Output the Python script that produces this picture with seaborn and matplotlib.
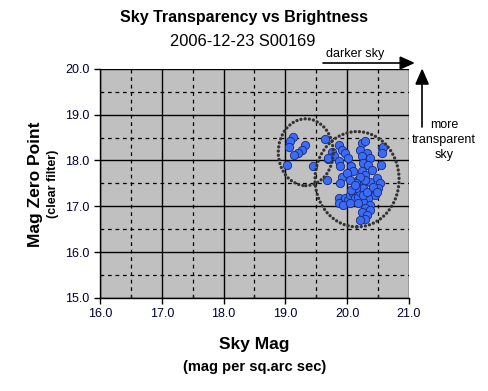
import matplotlib
matplotlib.use("Agg")
import matplotlib.pyplot as plt
from matplotlib.patches import Ellipse
from matplotlib.ticker import MultipleLocator, FormatStrFormatter
import seaborn as sns
import pandas as pd

# sky brightness (mag / sq arcsec) and zero point
sky_mag = [
    19.12, 19.07, 19.06, 19.31, 19.27, 19.21, 19.14, 19.02, 19.44, 19.64, 19.68,
    19.86, 19.75, 19.91, 19.96, 19.69, 19.78, 19.86, 20.02, 19.88, 20.07, 20.10,
    19.91, 19.88, 20.24, 20.29, 20.21, 20.32, 20.24, 20.37, 20.26, 20.34, 20.40,
    20.24, 20.29, 20.18, 20.24, 20.37, 20.48, 20.53, 20.50, 20.40, 20.45, 20.34,
    20.26, 20.37, 20.29, 20.37, 20.24, 20.32, 20.29, 20.20, 20.56, 20.58, 20.56,
    20.55, 19.86, 19.91, 19.96, 20.02, 20.05, 20.10, 20.13, 20.18, 20.21, 20.26,
    20.15, 20.07, 19.86, 19.94, 20.05, 20.18, 20.26, 20.32, 20.42, 20.48, 20.29,
    20.21, 20.15, 19.69, 19.99, 20.05, 20.13,
]
zero_point = [
    18.52, 18.43, 18.30, 18.34, 18.23, 18.16, 18.11, 17.90, 17.87, 18.46, 17.58,
    18.34, 18.19, 18.22, 18.16, 18.03, 18.09, 17.98, 18.05, 17.87, 17.87, 17.76,
    17.65, 17.50, 18.38, 18.43, 18.23, 18.16, 18.09, 18.05, 17.94, 17.90, 17.80,
    17.76, 17.69, 17.58, 17.50, 17.54, 17.61, 17.50, 17.40, 17.32, 17.25, 17.18,
    17.10, 17.03, 16.96, 16.92, 16.88, 16.81, 16.72, 16.70, 18.27, 18.30, 18.16,
    17.90, 17.18, 17.10, 17.18, 17.14, 17.25, 17.29, 17.18, 17.21, 17.32, 17.40,
    17.40, 17.36, 17.07, 17.03, 17.07, 17.07, 17.25, 17.32, 17.43, 17.32, 17.58,
    17.65, 17.50, 18.05, 17.72, 17.58, 17.47,
]

x_ticks = [16.0, 17.0, 18.0, 19.0, 20.0, 21.0]
y_ticks = [15.0, 16.0, 17.0, 18.0, 19.0, 20.0]

# dotted ovals drawn round the two groups: (centre x, centre y, width, height)
groups = [(19.33, 18.18, 0.89, 1.46), (20.16, 17.59, 1.36, 2.08)]

df = pd.DataFrame({"sky": sky_mag, "zp": zero_point})

sns.set_style("white")
plt.rcParams["font.family"] = ["Liberation Sans", "DejaVu Sans"]
plt.rcParams["text.color"] = "black"

fig = plt.figure(figsize=(4.88, 3.91), dpi=100)
ax = fig.add_axes([0.205, 0.238, 0.633, 0.586])
ax.set_facecolor("#c0c0c0")

ax.set_xlim(x_ticks[0], x_ticks[-1])
ax.set_ylim(y_ticks[0], y_ticks[-1])
ax.xaxis.set_major_locator(MultipleLocator(1.0))
ax.yaxis.set_major_locator(MultipleLocator(1.0))
ax.xaxis.set_minor_locator(MultipleLocator(0.5))
ax.yaxis.set_minor_locator(MultipleLocator(0.5))
ax.xaxis.set_major_formatter(FormatStrFormatter("%.1f"))
ax.yaxis.set_major_formatter(FormatStrFormatter("%.1f"))
ax.grid(which="major", color="black", lw=1.0, ls="-")
ax.grid(which="minor", color="black", lw=0.9, ls=(0, (3, 3)))
ax.set_axisbelow(True)

for side in ["top", "right"]:
    ax.spines[side].set_visible(False)
for side in ["left", "bottom"]:
    ax.spines[side].set_color("black")
    ax.spines[side].set_linewidth(1.0)
ax.tick_params(which="major", direction="out", length=4, width=1, colors="black",
               labelsize=9, left=True, bottom=True)
ax.tick_params(axis="x", which="minor", direction="in", length=2, width=1, bottom=True)
ax.tick_params(axis="y", which="minor", length=0)
for lab in ax.get_xticklabels() + ax.get_yticklabels():
    lab.set_color("#000030")

sns.scatterplot(data=df, x="sky", y="zp", ax=ax, marker="o", s=36,
                color="#3b6cf5", edgecolor="#1a2a80", linewidth=0.6, zorder=3)

for cx, cy, w, h in groups:
    ax.add_patch(Ellipse((cx, cy), w, h, fill=False, edgecolor="#333333", lw=2.4,
                         ls=(0, (0.01, 1.25)), capstyle="round", zorder=4))

ax.set_xlabel("")
ax.set_ylabel("")

fig.text(0.5, 0.955, "Sky Transparency vs Brightness", ha="center", va="center",
         fontsize=11.5, fontweight="bold")
fig.text(0.497, 0.893, "2006-12-23 S00169", ha="center", va="center", fontsize=11.8)

fig.text(0.522, 0.12, "Sky Mag", ha="center", va="center", fontsize=12.5, fontweight="bold")
fig.text(0.522, 0.062, "(mag per sq.arc sec)", ha="center", va="center", fontsize=10.5,
         fontweight="bold")
fig.text(0.072, 0.53, "Mag Zero Point", ha="center", va="center", rotation=90,
         fontsize=12.5, fontweight="bold")
fig.text(0.108, 0.53, "(clear filter)", ha="center", va="center", rotation=90,
         fontsize=9, fontweight="bold")

fig.text(0.728, 0.862, "darker sky", ha="center", va="center", fontsize=9)
fig.add_artist(plt.Line2D([0.662, 0.82], [0.839, 0.839], color="black", lw=1.2))
fig.patches.append(matplotlib.patches.FancyArrow(
    0.82, 0.839, 0.027, 0, width=0.0, head_width=0.03, head_length=0.027,
    length_includes_head=True, color="black", transform=fig.transFigure, figure=fig))
fig.add_artist(plt.Line2D([0.865, 0.865], [0.675, 0.785], color="black", lw=1.2))
fig.patches.append(matplotlib.patches.FancyArrow(
    0.865, 0.785, 0, 0.036, width=0.0, head_width=0.025, head_length=0.036,
    length_includes_head=True, color="black", transform=fig.transFigure, figure=fig))
fig.text(0.91, 0.642, "more\ntransparent\nsky", ha="center", va="center", fontsize=9,
         linespacing=1.3)

fig.savefig("out.png", dpi=100, facecolor="white")
